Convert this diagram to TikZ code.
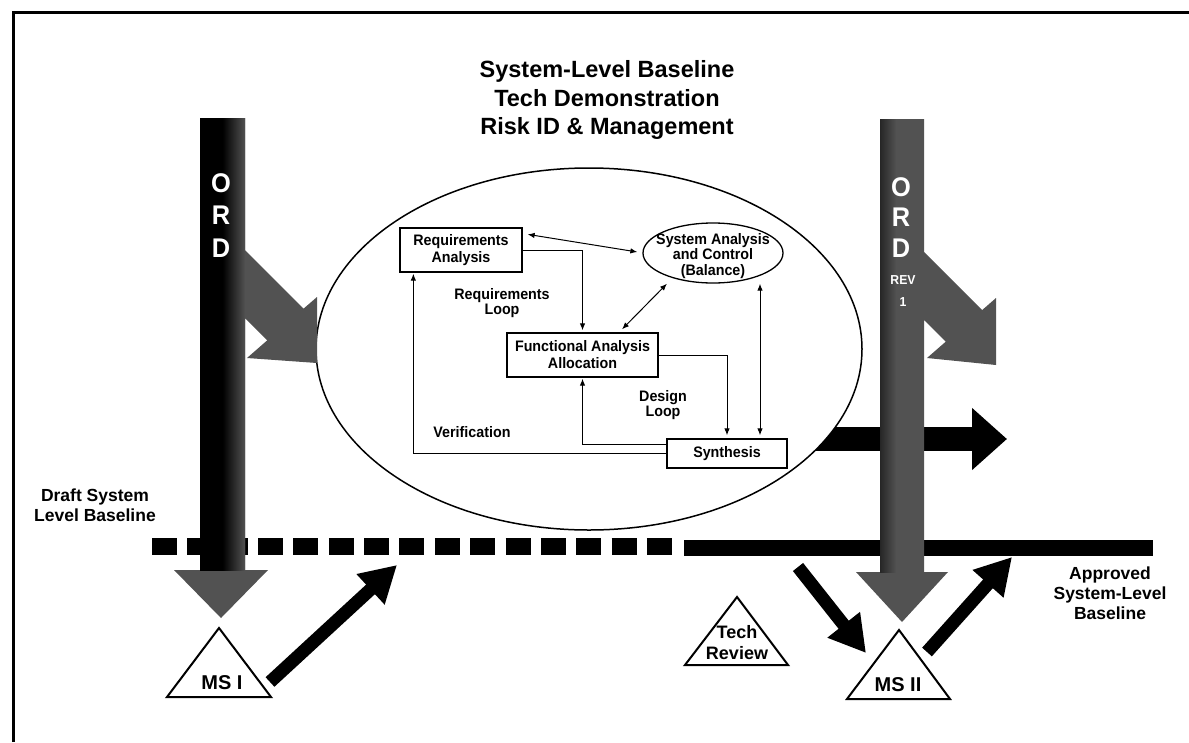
\documentclass[tikz,border=0pt]{standalone}
\usepackage{fontspec}
\setmainfont{Liberation Sans}
\newfontfamily\narrowsans[FakeStretch=0.94]{Liberation Sans}
\usetikzlibrary{arrows.meta,calc,shapes.geometric}
\definecolor{ordgray}{gray}{0.32}
\newcommand\fsz[2]{\fontsize{#1}{#2}\selectfont\bfseries}
\newcommand\nsz[2]{\narrowsans\fontsize{#1}{#2}\selectfont\bfseries}
\begin{document}
\begin{tikzpicture}[x=1pt,y=-1pt,
  box/.style={draw, line width=1.3pt, fill=white, align=center, inner sep=0pt, font=\nsz{15.2}{17}},
  txt/.style={align=center, inner sep=0pt, font=\nsz{15.2}{15.5}},
  big/.style={align=center, inner sep=0pt, font=\fsz{17.5}{20}},
  ordtxt/.style={text=white, inner sep=0pt, font=\nsz{27}{28}},
  flow/.style={line width=1pt, -{Latex[length=7pt,width=5.5pt]}},
  dflow/.style={line width=1pt, {Latex[length=7pt,width=5.5pt]}-{Latex[length=7pt,width=5.5pt]}},
  tri/.style={draw, line width=2pt, fill=white, line join=miter},
  blackarrow/.style={line width=13pt, -{Triangle[length=36pt,width=39pt]}}
]
\useasboundingbox (0,0) rectangle (1189,742);
% frame
\draw[line width=3pt] (13,742) -- (13,12) -- (1189,12);
% title
\node[align=center, inner sep=0pt, font=\fsz{23.5}{28.5}] (title) at (607,100)
  {System-Level Baseline\\Tech Demonstration\\Risk ID \& Management};
% baselines
\coordinate (dashA) at (152,546.5);
\coordinate (dashB) at (672,546.5);
\coordinate (solA) at (684,548);
\coordinate (solB) at (1153,548);
\draw[line width=17pt, dash pattern=on 25pt off 10.35pt] (dashA) -- (dashB);
\draw[line width=16pt] (solA) -- (solB);
% synthesis output arrow
\coordinate (synout) at (800,439);
\coordinate (syntip) at (1007,439);
\draw[line width=24pt, -{Triangle[length=35pt,width=60pt]}] (synout) -- (syntip);
% big ellipse
\node[draw, ellipse, fill=white, line width=1.5pt, minimum width=546pt, minimum height=362pt, inner sep=0pt] (bigell) at (589,349) {};
% inner nodes
\node[box, minimum width=122pt, minimum height=44pt] (req) at (461,250) {Requirements\\Analysis};
\node[draw, ellipse, line width=1.3pt, minimum width=140pt, minimum height=60pt, inner sep=0pt] (sys) at (713,253) {};
\node[txt] (systxt) at (713,256) {System Analysis\\and Control\\(Balance)};
\node[box, minimum width=151pt, minimum height=44pt] (fa) at (582.5,355) {Functional Analysis\\Allocation};
\node[box, minimum width=120pt, minimum height=29pt] (synth) at (727,453.5) {Synthesis};
\node[txt] (reqloop) at (502,303) {Requirements\\Loop};
\node[txt] (desloop) at (663,405) {Design\\Loop};
\node[txt] (verif) at (472,432) {Verification};
% inner connectors
\draw[dflow] ($(req.north east)+(5,7)$) -- ($(sys.west)+(-5,-1)$);
\draw[flow, shorten >=2pt] (req.east) -| (fa.north);
\draw[dflow] ($(fa.north)+(39.5,-3)$) -- ($(sys.south)+(-46,0)$);
\draw[flow, shorten >=3pt] (fa.east) -| (synth.north);
\draw[dflow] ($(sys.south)+(47,0)$) -- ($(synth.north)+(33,-3)$);
\draw[flow, shorten >=1pt] ($(synth.west)+(0,-9.5)$) -| (fa.south);
\draw[flow, shorten >=1pt] (synth.west) -| ($(req.south west)+(14,0)$);
% left ORD arrow
\fill[ordgray] (200,118) -- (245,118) -- (245,250) -- (303.6,308.6) -- (317,297) -- (317,363)
  -- (247,358) -- (267.3,340.3) -- (245,318) -- (245,570) -- (268,570) -- (221,618)
  -- (174,570) -- (200,570) -- cycle;
\shade[left color=black, right color=ordgray, middle color=black] (200,118) rectangle (245,570);
\node[ordtxt] (ordLo) at (221,183) {O};
\node[ordtxt] (ordLr) at (221,215) {R};
\node[ordtxt] (ordLd) at (221,248) {D};
% right ORD arrow
\fill[ordgray] (880,119) -- (924,119) -- (924,252) -- (982.1,310.1) -- (996,298) -- (996,365)
  -- (927,358) -- (945.7,341.7) -- (924,320) -- (924,572) -- (948,572) -- (902,622)
  -- (856,572) -- (880,572) -- cycle;
\shade[left color=black!85, right color=ordgray] (880,119) rectangle (896,572);
\node[ordtxt] (ordRo) at (901,187) {O};
\node[ordtxt] (ordRr) at (901,217) {R};
\node[ordtxt] (ordRd) at (901,248) {D};
\node[text=white, inner sep=0pt, font=\nsz{13}{14}] (rev) at (903,280) {REV};
\node[text=white, inner sep=0pt, font=\nsz{13}{14}] (revone) at (903,302) {1};
% labels
\node[big] (draft) at (95,505) {Draft System\\Level Baseline};
\node[big] (approved) at (1110,593) {Approved\\System-Level\\Baseline};
% triangles
\coordinate (msIa) at (219,628); \coordinate (msIb) at (167,697); \coordinate (msIc) at (271,697);
\draw[tri] (msIa) -- (msIb) -- (msIc) -- cycle;
\node[inner sep=0pt, font=\fsz{20}{22}] (msI) at (222,683) {MS I};
\coordinate (trA) at (737,597); \coordinate (trB) at (685,665); \coordinate (trC) at (788,665);
\draw[tri] (trA) -- (trB) -- (trC) -- cycle;
\node[align=center, inner sep=0pt, font=\fsz{18}{21}] (techrev) at (737,643) {Tech\\Review};
\coordinate (msIIa) at (899,630); \coordinate (msIIb) at (847,699); \coordinate (msIIc) at (950,699);
\draw[tri] (msIIa) -- (msIIb) -- (msIIc) -- cycle;
\node[inner sep=0pt, font=\fsz{20}{22}] (msII) at (898,685) {MS II};
% black arrows
\coordinate (a1s) at (270,682); \coordinate (a1e) at (397,565);
\draw[blackarrow] (a1s) -- (a1e);
\coordinate (a2s) at (798,567); \coordinate (a2e) at (866,653);
\draw[blackarrow] (a2s) -- (a2e);
\coordinate (a3s) at (927,652); \coordinate (a3e) at (1012,557);
\draw[blackarrow] (a3s) -- (a3e);
\end{tikzpicture}
\end{document}
